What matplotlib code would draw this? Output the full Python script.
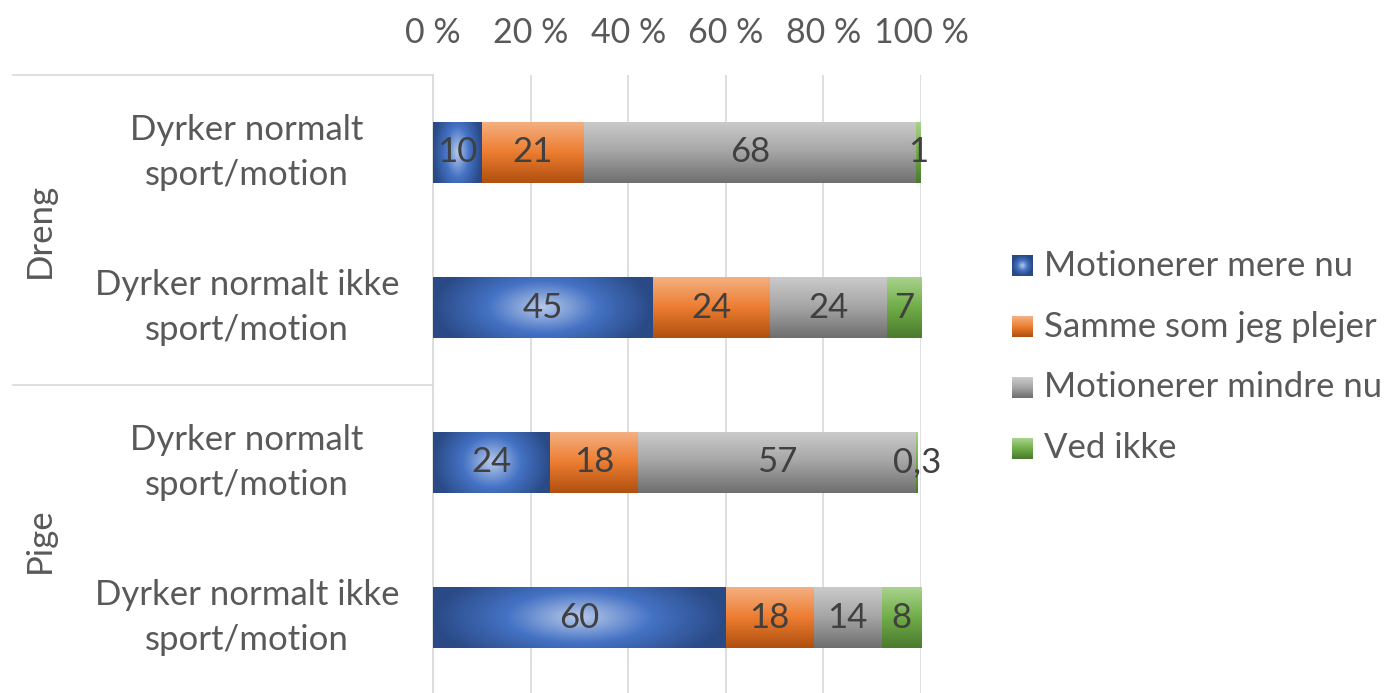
import matplotlib.pyplot as plt
import numpy as np
from matplotlib.colors import LinearSegmentedColormap
from matplotlib.transforms import blended_transform_factory

plt.rcParams['font.family'] = ['Lato', 'DejaVu Sans']

# data: percent of answers per row
groups = ['Dreng', 'Pige']
rows = ['Dyrker normalt\nsport/motion', 'Dyrker normalt ikke\nsport/motion',
        'Dyrker normalt\nsport/motion', 'Dyrker normalt ikke\nsport/motion']
series = ['Motionerer mere nu', 'Samme som jeg plejer', 'Motionerer mindre nu', 'Ved ikke']
mere = [10, 45, 24, 60]
samme = [21, 24, 18, 18]
mindre = [68, 24, 57, 14]
ved_ikke = [1, 7, 0.3, 8]
values = [mere, samme, mindre, ved_ikke]
xticks = [0, 20, 40, 60, 80, 100]

FS = 25

# gradient colour stops per series (light -> base -> dark)
stops = [
    ['#b7c9ea', '#4472c4', '#2a4a86'],
    ['#f4b183', '#ed7d31', '#b0500f'],
    ['#cbcbcb', '#a5a5a5', '#6f6f6f'],
    ['#aad38f', '#70ad47', '#4b7b2f'],
]
cmaps = [LinearSegmentedColormap.from_list('s%d' % i, s) for i, s in enumerate(stops)]


def grad_image(kind, n=64, m=256):
    if kind == 0:
        # light in the middle, darker towards the ends
        dx = np.linspace(-1, 1, m)[None, :]
        dy = np.linspace(-1, 1, n)[:, None]
        return np.clip(np.sqrt(dx ** 2 + 0.35 * dy ** 2), 0, 1)
    # top to bottom
    return np.repeat(np.linspace(0, 1, n)[:, None], m, axis=1)


W, H = 1396, 693
fig = plt.figure(figsize=(W / 100, H / 100), dpi=100)
ax = fig.add_axes([433 / W, -2 / H, 488 / W, 620 / H])

y = np.arange(len(rows))
left = np.zeros(len(rows))
for k, vals in enumerate(values):
    bars = ax.barh(y, vals, left=left, height=0.4, color='none', edgecolor='none', zorder=3)
    for b, v in zip(bars, vals):
        x0, y0 = b.get_x(), b.get_y()
        x1, y1 = x0 + b.get_width(), y0 + b.get_height()
        img = ax.imshow(grad_image(k), cmap=cmaps[k], vmin=0, vmax=1,
                        extent=(x0, x1, y1, y0), aspect='auto',
                        interpolation='bilinear', zorder=3)
        img.set_clip_path(b)
        lab = ('%g' % v).replace('.', ',')
        ax.text(x0 + b.get_width() / 2, b.get_y() + b.get_height() / 2, lab,
                ha='center', va='center', fontsize=FS, color='#404040', zorder=5)
    left = left + np.array(vals)

ax.set_xlim(0, 100)
ax.set_ylim(len(rows) - 0.5, -0.5)
ax.xaxis.set_ticks_position('top')
ax.set_xticks(xticks)
ax.set_xticklabels(['%d %%' % t for t in xticks], fontsize=24.5, color='#595959')
ax.tick_params(axis='x', length=0, pad=19)
ax.set_yticks(y)
ax.set_yticklabels(rows, fontsize=FS, color='#595959', ha='center', va='center',
                   linespacing=1.5)
ax.tick_params(axis='y', length=0, pad=134)
ax.grid(axis='x', color='#d9d9d9', linewidth=1.2, zorder=0)
for s in ['top', 'right', 'bottom']:
    ax.spines[s].set_visible(False)
ax.spines['left'].set_color('#d9d9d9')
ax.spines['left'].set_linewidth(1.2)

# group labels and separators on the left
tr = blended_transform_factory(ax.transAxes, ax.transData)
for g, name in enumerate(groups):
    ax.text(-0.805, 2 * g + 0.5, name, rotation=90, ha='center', va='center',
            fontsize=FS, color='#595959', transform=tr)
for yy in [-0.5, 1.5, 3.5]:
    ax.plot([-0.861, 0], [yy, yy], color='#d9d9d9', linewidth=1.2,
            transform=tr, clip_on=False)

# legend
lg = fig.add_axes([0, 0, 1, 1])
lg.axis('off')
lg.patch.set_alpha(0)
for k, name in enumerate(series):
    yc = 266 + k * 60.7
    g = grad_image(k, 32, 32)
    if k == 0:
        dx = np.linspace(-1, 1, 32)[None, :]
        dy = np.linspace(-1, 1, 32)[:, None]
        g = np.clip(np.sqrt(dx ** 2 + dy ** 2), 0, 1)
    lg.imshow(g, cmap=cmaps[k], vmin=0, vmax=1, extent=(1012, 1033, yc + 10.5, yc - 10.5),
              aspect='auto', interpolation='bilinear')
    lg.text(1044, yc, name, ha='left', va='center', fontsize=FS, color='#595959')
lg.set_xlim(0, W)
lg.set_ylim(H, 0)

fig.savefig('out.png', dpi=100)
